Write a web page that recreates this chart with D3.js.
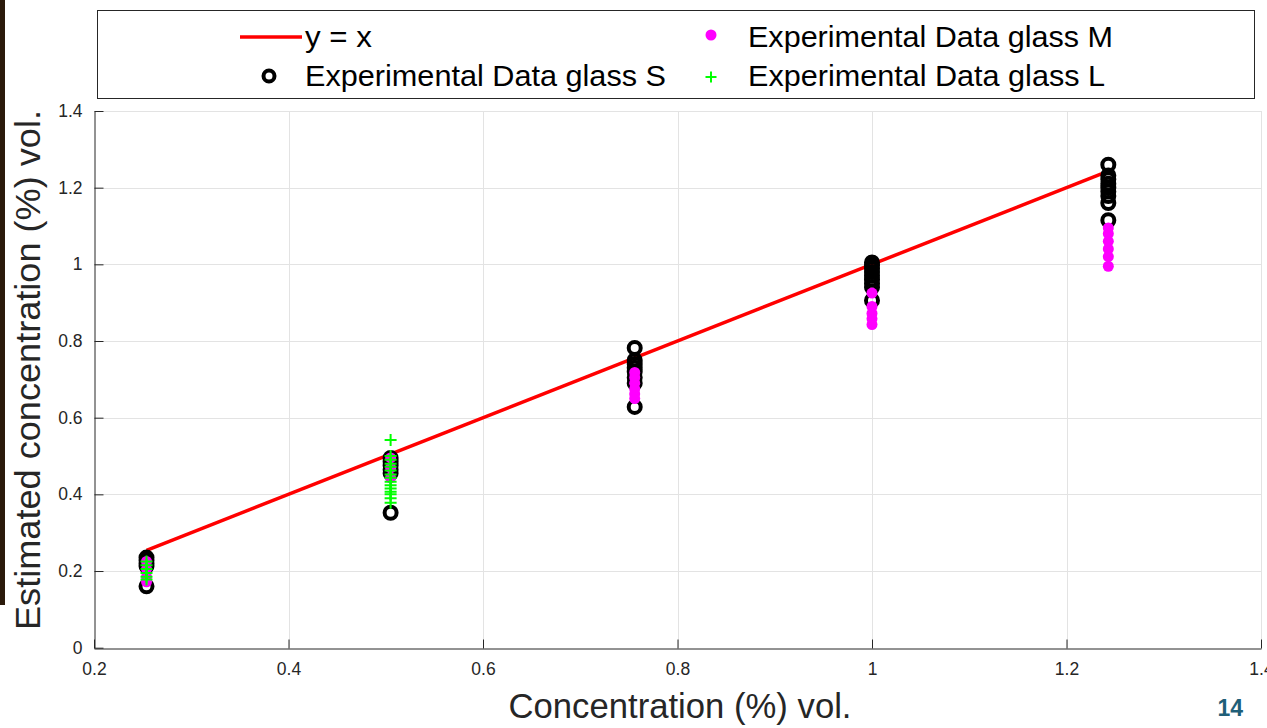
<!DOCTYPE html>
<html>
<head>
<meta charset="utf-8">
<script src="https://cdn.jsdelivr.net/npm/d3@7/dist/d3.min.js"></script>
<style>
  html, body { margin: 0; padding: 0; background: #fff; }
  svg { display: block; font-family: "Liberation Sans", Arial, sans-serif; }
</style>
</head>
<body>
<svg id="chart" width="1267" height="728"></svg>
<script>
// Nominal concentrations (% vol.) of each test set
const concentrations = [0.254, 0.505, 0.756, 1.0, 1.243];

// Estimated concentrations per glass, one list per nominal concentration
const glassS = [
  [0.235, 0.228, 0.22, 0.213, 0.16],
  [0.495, 0.485, 0.475, 0.465, 0.455, 0.352],
  [0.782, 0.75, 0.74, 0.73, 0.72, 0.705, 0.69, 0.628],
  [1.005, 0.998, 0.99, 0.98, 0.97, 0.96, 0.95, 0.94, 0.906],
  [1.26, 1.232, 1.222, 1.21, 1.2, 1.19, 1.178, 1.16, 1.115]
];
const glassM = [
  [0.225, 0.205, 0.185, 0.172],
  [0.495, 0.469, 0.443],
  [0.718, 0.705, 0.69, 0.675, 0.662, 0.65],
  [0.925, 0.89, 0.872, 0.858, 0.843],
  [1.095, 1.08, 1.06, 1.04, 1.02, 0.995]
];
const glassL = [
  [0.225, 0.215, 0.205, 0.195, 0.185, 0.178],
  [0.542, 0.5, 0.49, 0.48, 0.472, 0.462, 0.452, 0.443, 0.433, 0.424, 0.415, 0.407, 0.4, 0.39, 0.378],
  [],
  [],
  []
];

const xTicks = [0.2, 0.4, 0.6, 0.8, 1.0, 1.2, 1.4];
const yTicks = [0, 0.2, 0.4, 0.6, 0.8, 1.0, 1.2, 1.4];

const xLabel = "Concentration (%) vol.";
const yLabel = "Estimated concentration (%) vol.";
const legendLabels = ["y = x", "Experimental Data glass S", "Experimental Data glass M", "Experimental Data glass L"];
const slideNumber = "14";

const svg = d3.select("#chart");
const axisColor = "#262626";

const x = d3.scaleLinear().domain([0.2, 1.4]).range([94, 1261]);
const y = d3.scaleLinear().domain([0, 1.4]).range([647.7, 111]);

// slide side bar
svg.append("rect").attr("x", 0).attr("y", 0).attr("width", 5).attr("height", 605).attr("fill", "#2b1a0b");

// grid
const grid = svg.append("g");
grid.selectAll("line.vx").data(xTicks.slice(1)).join("line")
  .attr("x1", d => Math.round(x(d)) + 0.5).attr("x2", d => Math.round(x(d)) + 0.5)
  .attr("y1", y(1.4)).attr("y2", y(0))
  .attr("stroke", "#e3e3e3").attr("stroke-width", 1);
grid.selectAll("line.hy").data(yTicks.slice(1)).join("line")
  .attr("x1", x(0.2)).attr("x2", x(1.4))
  .attr("y1", d => Math.round(y(d)) + 0.5).attr("y2", d => Math.round(y(d)) + 0.5)
  .attr("stroke", "#e3e3e3").attr("stroke-width", 1);

// axes with inward ticks
const fmt = d => d3.format("~g")(d);
const xAxis = svg.append("g").attr("transform", `translate(0,${Math.round(y(0)) + 0.5})`)
  .call(d3.axisBottom(x).tickValues(xTicks).tickFormat(fmt).tickSizeInner(-9).tickSizeOuter(0).tickPadding(14));
const yAxis = svg.append("g").attr("transform", `translate(${Math.round(x(0.2)) + 0.5},0)`)
  .call(d3.axisLeft(y).tickValues(yTicks).tickFormat(fmt).tickSizeInner(-9).tickSizeOuter(0).tickPadding(12));
[xAxis, yAxis].forEach(g => {
  g.select(".domain").attr("stroke", axisColor);
  g.selectAll(".tick line").attr("stroke", axisColor);
  g.selectAll(".tick text").attr("fill", axisColor)
    .style("font-family", "'Liberation Sans', Arial, sans-serif").style("font-size", "17.5px");
});

// reference line y = x
const lineExtent = [concentrations[0], concentrations[concentrations.length - 1]];
svg.append("path")
  .attr("d", d3.line().x(d => x(d)).y(d => y(d))(lineExtent))
  .attr("stroke", "#ff0000").attr("stroke-width", 3.5).attr("fill", "none");

const flat = (arr) => arr.flatMap((vals, i) => vals.map(v => ({ c: concentrations[i], v })));

// glass S: open circles
svg.append("g").selectAll("circle").data(flat(glassS)).join("circle")
  .attr("cx", d => x(d.c)).attr("cy", d => y(d.v)).attr("r", 6)
  .attr("fill", "none").attr("stroke", "#000").attr("stroke-width", 4);

// glass M: filled dots
svg.append("g").selectAll("circle").data(flat(glassM)).join("circle")
  .attr("cx", d => x(d.c)).attr("cy", d => y(d.v)).attr("r", 5.5)
  .attr("fill", "#ff00ff");

// glass L: plus markers
const plus = (cx, cy, s) => `M${cx - s},${cy}H${cx + s}M${cx},${cy - s}V${cy + s}`;
svg.append("g").selectAll("path").data(flat(glassL)).join("path")
  .attr("d", d => plus(x(d.c), y(d.v), 6))
  .attr("stroke", "#00ff00").attr("stroke-width", 2).attr("fill", "none");

// axis titles
svg.append("text").attr("x", 680).attr("y", 718).attr("text-anchor", "middle")
  .attr("fill", axisColor).style("font-size", "35px")
  .attr("textLength", 343).attr("lengthAdjust", "spacingAndGlyphs").text(xLabel);
svg.append("text").attr("transform", "translate(40,370) rotate(-90)").attr("text-anchor", "middle")
  .attr("fill", axisColor).style("font-size", "35px")
  .attr("textLength", 520).attr("lengthAdjust", "spacingAndGlyphs").text(yLabel);

// legend
const lg = svg.append("g");
lg.append("rect").attr("x", 97.5).attr("y", 10.5).attr("width", 1157).attr("height", 88)
  .attr("fill", "#fff").attr("stroke", axisColor).attr("stroke-width", 1);
lg.append("line").attr("x1", 240).attr("x2", 302).attr("y1", 37).attr("y2", 37)
  .attr("stroke", "#ff0000").attr("stroke-width", 3.5);
lg.append("circle").attr("cx", 269).attr("cy", 76).attr("r", 5.5).attr("fill", "none")
  .attr("stroke", "#000").attr("stroke-width", 4);
lg.append("circle").attr("cx", 711).attr("cy", 35).attr("r", 5.5).attr("fill", "#ff00ff");
lg.append("path").attr("d", plus(711, 77, 5.5)).attr("stroke", "#00ff00").attr("stroke-width", 2);
const legendText = [
  { t: legendLabels[0], x: 305, y: 47, w: 67 },
  { t: legendLabels[1], x: 305, y: 86, w: 361 },
  { t: legendLabels[2], x: 748, y: 47, w: 365 },
  { t: legendLabels[3], x: 748, y: 86, w: 357 }
];
lg.selectAll("text").data(legendText).join("text")
  .attr("x", d => d.x).attr("y", d => d.y).attr("fill", "#000").style("font-size", "29px")
  .attr("textLength", d => d.w).attr("lengthAdjust", "spacingAndGlyphs").text(d => d.t);

// slide number
svg.append("text").attr("x", 1243).attr("y", 716).attr("text-anchor", "end")
  .attr("fill", "#1f5f78").style("font-size", "23px").style("font-weight", "bold")
  .text(slideNumber);
</script>
</body>
</html>
